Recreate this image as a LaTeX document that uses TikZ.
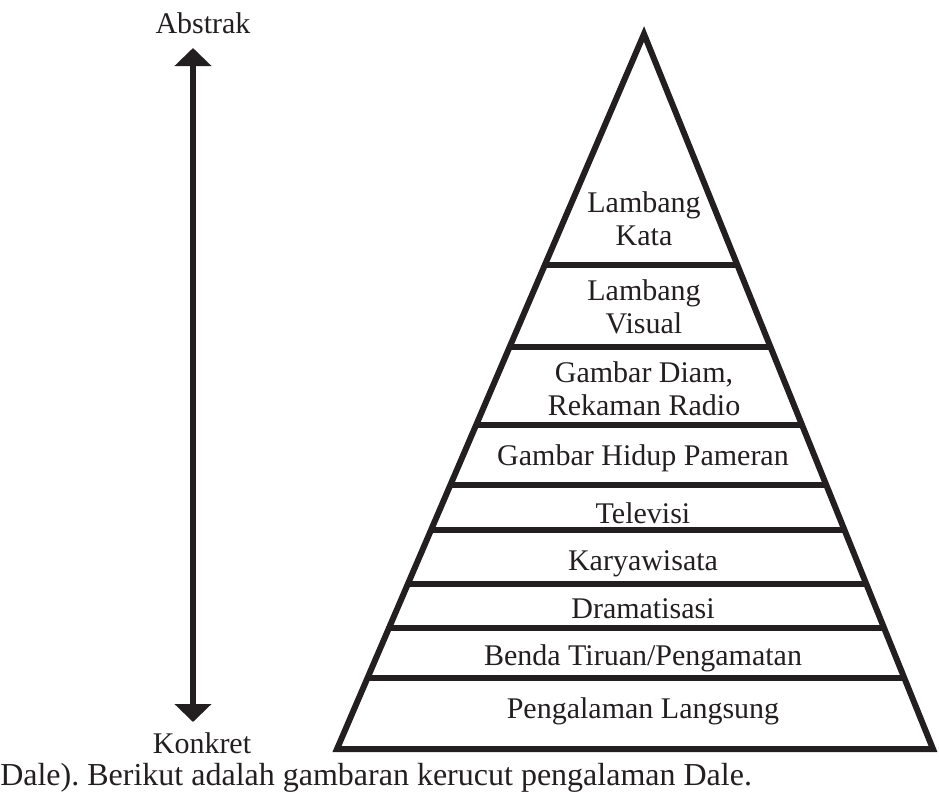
\documentclass[tikz,border=0pt]{standalone}
\usepackage{fontspec}
\setmainfont{Liberation Serif}
\usetikzlibrary{arrows.meta,calc}
\definecolor{InkDark}{RGB}{35,31,32}

\tikzset{
  tier/.style={font=\fontsize{22.5}{24.5}\selectfont, anchor=base, align=center, inner sep=0pt, text=InkDark},
  thickline/.style={line width=4.5pt, draw=InkDark}
}

\begin{document}
\frenchspacing
\begin{tikzpicture}[x=0.75pt, y=-0.75pt]
  \useasboundingbox (0,0) rectangle (939,794);

  % Arrow
  \coordinate (up) at (193,48);
  \coordinate (down) at (193,722);
  \draw[thickline, {Triangle[width=27pt,length=13.5pt]}-{Triangle[width=27pt,length=13.5pt]}] (down) -- (up);
  \node[tier] (abstrak) at (203,33) {Abstrak};
  \node[tier] (konkret) at (202,753) {Konkret};

  % Cone
  \coordinate (apex) at (644,34);
  \coordinate (bl) at (337,749);
  \coordinate (br) at (933,749);
  \draw[thickline, line join=miter] (apex) -- (bl) -- (br) -- cycle;
  \foreach \y in {265,347,425,485,530,584,628,678} {
    \pgfmathsetmacro{\t}{(\y-34)/715}
    \draw[thickline] ($(apex)!\t!(bl)$) -- ($(apex)!\t!(br)$);
  }

  % Labels (base = last line)
  \node[tier] (kata) at (644,245) {Lambang\\Kata};
  \node[tier] (visual) at (644,333) {Lambang\\Visual};
  \node[tier] (diam) at (644,415) {Gambar Diam,\\Rekaman Radio};
  \node[tier] (hidup) at (643,465) {Gambar Hidup Pameran};
  \node[tier] (tv) at (643,523) {Televisi};
  \node[tier] (wisata) at (643,570) {Karyawisata};
  \node[tier] (drama) at (643,618) {Dramatisasi};
  \node[tier] (tiruan) at (643,665) {Benda Tiruan/Pengamatan};
  \node[tier] (langsung) at (643,718) {Pengalaman Langsung};

  % Caption
  \node[tier, font=\fontsize{24}{26}\selectfont, anchor=base west] (caption) at (0,785) {Dale). Berikut adalah gambaran kerucut pengalaman Dale.};
\end{tikzpicture}
\end{document}
